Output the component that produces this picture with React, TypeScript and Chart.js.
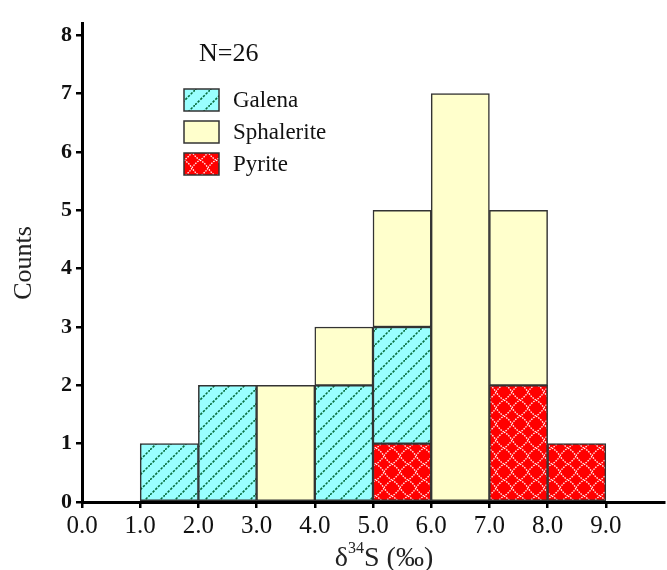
import React, { useEffect, useRef } from "react";
import { Chart, registerables } from "chart.js";

Chart.register(...registerables);

const binStarts = [0, 1, 2, 3, 4, 5, 6, 7, 8];
const pyrite = [0, 0, 0, 0, 0, 1, 0, 2, 1];
const galena = [0, 1, 2, 0, 2, 2, 0, 0, 0];
const sphalerite = [0, 0, 0, 2, 1, 2, 7, 3, 0];
const seriesNames = ["Galena", "Sphalerite", "Pyrite"];
const sampleLabel = "N=26";
const yTitle = "Counts";

const SERIF = "'Liberation Serif', 'Times New Roman', serif";
const BORDER = "#333333";
const GALENA_BG = "#99ffff";
const SPH_BG = "#ffffcc";
const PYR_BG = "#ff0000";

function makeGalenaPattern(ctx: CanvasRenderingContext2D) {
  const s = 15;
  const c = document.createElement("canvas");
  c.width = s;
  c.height = s;
  const g = c.getContext("2d")!;
  g.fillStyle = GALENA_BG;
  g.fillRect(0, 0, s, s);
  g.strokeStyle = "#0a7040";
  g.lineWidth = 1.6;
  g.setLineDash([2.4, 1.4]);
  g.beginPath();
  g.moveTo(0, s);
  g.lineTo(s, 0);
  g.stroke();
  return ctx.createPattern(c, "repeat")!;
}

function makePyritePattern(ctx: CanvasRenderingContext2D) {
  const s = 16;
  const c = document.createElement("canvas");
  c.width = s;
  c.height = s;
  const g = c.getContext("2d")!;
  g.fillStyle = PYR_BG;
  g.fillRect(0, 0, s, s);
  g.strokeStyle = "#ffffff";
  g.lineWidth = 1.3;
  g.setLineDash([1.5, 1.2]);
  g.beginPath();
  g.moveTo(0, s / 2);
  g.quadraticCurveTo(s / 4 - 1, s / 4 - 1, s / 2, 0);
  g.moveTo(s / 2, 0);
  g.quadraticCurveTo(s * 0.75 + 1, s / 4 - 1, s, s / 2);
  g.moveTo(s, s / 2);
  g.quadraticCurveTo(s * 0.75 + 1, s * 0.75 + 1, s / 2, s);
  g.moveTo(s / 2, s);
  g.quadraticCurveTo(s / 4 - 1, s * 0.75 + 1, 0, s / 2);
  g.stroke();
  return ctx.createPattern(c, "repeat")!;
}

function toPoints(vals: number[]) {
  return binStarts.map((b, i) => ({ x: b + 0.5, y: vals[i] > 0 ? vals[i] : null }));
}

export default function App() {
  const ref = useRef<HTMLCanvasElement | null>(null);

  useEffect(() => {
    const canvas = ref.current!;
    const ctx = canvas.getContext("2d")!;
    const galPat = makeGalenaPattern(ctx);
    const pyrPat = makePyritePattern(ctx);

    const overlay = {
      id: "overlay",
      afterDraw(chart: any) {
        const c = chart.ctx as CanvasRenderingContext2D;
        c.save();
        c.fillStyle = "#111";
        c.font = `26px ${SERIF}`;
        c.textBaseline = "alphabetic";
        c.textAlign = "left";
        c.fillText(sampleLabel, 199, 61);
        const fills = [galPat, SPH_BG, pyrPat];
        const ys = [89, 121, 153];
        c.font = `23px ${SERIF}`;
        for (let i = 0; i < 3; i++) {
          c.fillStyle = fills[i] as any;
          c.fillRect(184, ys[i], 35, 22);
          c.strokeStyle = BORDER;
          c.lineWidth = 1.5;
          c.strokeRect(184, ys[i], 35, 22);
          c.fillStyle = "#111";
          c.textBaseline = "middle";
          c.fillText(seriesNames[i], 233, ys[i] + 12);
        }
        c.save();
        c.translate(24, 263);
        c.rotate(-Math.PI / 2);
        c.textAlign = "center";
        c.textBaseline = "middle";
        c.font = `26px ${SERIF}`;
        c.fillStyle = "#222";
        c.fillText(yTitle, 0, 0);
        c.restore();
        const p1 = "\u03b4";
        const sup = "34";
        const p2 = "S (\u2030)";
        c.textBaseline = "alphabetic";
        c.textAlign = "left";
        c.font = `28px ${SERIF}`;
        const w1 = c.measureText(p1).width;
        const w3 = c.measureText(p2).width;
        c.font = `16px ${SERIF}`;
        const w2 = c.measureText(sup).width;
        const total = w1 + w2 + w3;
        let x = 384 - total / 2;
        c.fillStyle = "#222";
        c.font = `28px ${SERIF}`;
        c.fillText(p1, x, 566);
        x += w1;
        c.font = `16px ${SERIF}`;
        c.fillText(sup, x, 553);
        x += w2;
        c.font = `28px ${SERIF}`;
        c.fillText(p2, x, 566);
        c.restore();
      },
    };

    const common = {
      borderColor: BORDER,
      borderWidth: 1.5,
      borderSkipped: false as const,
      barPercentage: 1,
      categoryPercentage: 1,
    };

    const chart = new Chart(canvas, {
      type: "bar",
      data: {
        datasets: [
          { label: "Pyrite", data: toPoints(pyrite) as any, backgroundColor: pyrPat as any, ...common },
          { label: "Galena", data: toPoints(galena) as any, backgroundColor: galPat as any, ...common },
          { label: "Sphalerite", data: toPoints(sphalerite) as any, backgroundColor: SPH_BG, ...common },
        ],
      },
      options: {
        responsive: false,
        animation: false,
        layout: { padding: { top: 23, right: 1, left: 0, bottom: 0 } },
        plugins: { legend: { display: false }, tooltip: { enabled: false } },
        scales: {
          x: {
            type: "linear",
            stacked: true,
            min: 0,
            max: 10,
            offset: false,
            ticks: {
              stepSize: 1,
              includeBounds: false,
              padding: 3,
              color: "#111",
              font: { family: SERIF, size: 25 },
              callback: (v: any) => (Number(v) >= 10 ? "" : Number(v).toFixed(1)),
              maxRotation: 0,
              autoSkip: false,
            },
            grid: {
              offset: false,
              drawOnChartArea: false,
              drawTicks: true,
              tickLength: 6,
              lineWidth: 2.5,
              color: (c: any) => (c.tick && c.tick.value >= 10 ? "rgba(0,0,0,0)" : "#000"),
            },
            border: { display: true, color: "#000", width: 3 },
            afterFit: (s: any) => {
              s.height = 68;
            },
          } as any,
          y: {
            stacked: true,
            min: 0,
            max: 8.21,
            ticks: {
              stepSize: 1,
              includeBounds: false,
              padding: 4,
              color: "#111",
              font: { family: SERIF, size: 22, weight: "bold" },
            },
            grid: {
              offset: false,
              drawOnChartArea: false,
              drawTicks: true,
              tickLength: 6,
              lineWidth: 2.5,
              color: "#000",
            },
            border: { display: true, color: "#000", width: 3 },
            afterFit: (s: any) => {
              s.width = 82;
            },
          } as any,
        },
      },
      plugins: [overlay],
    });
    return () => chart.destroy();
  }, []);

  return (
    <div style={{ position: "fixed", left: 0, top: 0, width: 667, height: 570, background: "#fff" }}>
      <canvas ref={ref} width={667} height={570} style={{ display: "block" }} />
    </div>
  );
}
